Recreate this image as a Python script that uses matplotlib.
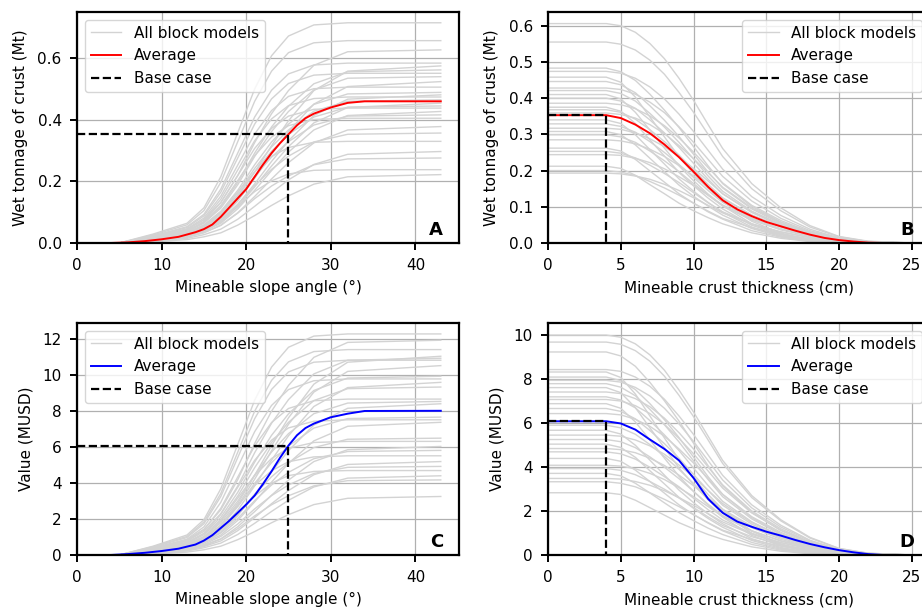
import matplotlib
matplotlib.use('Agg')
import matplotlib.pyplot as plt

# --- slope angle panels (A, C) ---
angle_x = [5, 9, 13, 15, 17, 19, 21, 23, 25, 28, 32, 43]

tonnage_by_angle = [
    [0, .029, .064, .114, .215, .358, .500, .608, .672, .708, .715, .715],
    [0, .026, .059, .105, .197, .329, .460, .558, .618, .650, .657, .657],
    [0, .019, .044, .075, .132, .219, .326, .420, .495, .577, .621, .627],
    [0, .023, .053, .093, .175, .292, .409, .496, .549, .578, .584, .584],
    [0, .012, .029, .052, .086, .150, .230, .316, .397, .495, .558, .575],
    [0, .017, .039, .067, .118, .197, .292, .377, .444, .517, .556, .562],
    [0, .022, .050, .088, .165, .276, .386, .468, .518, .545, .551, .551],
    [0, .016, .038, .065, .113, .189, .281, .362, .427, .497, .535, .540],
    [0, .010, .026, .047, .079, .136, .210, .288, .362, .451, .508, .524],
    [0, .020, .046, .081, .152, .253, .354, .430, .476, .501, .506, .506],
    [0, .015, .034, .059, .103, .171, .254, .328, .386, .450, .484, .489],
    [0, .010, .024, .043, .072, .125, .192, .265, .332, .414, .467, .481],
    [0, .019, .043, .076, .142, .237, .332, .403, .446, .469, .474, .474],
    [0, .014, .033, .056, .098, .163, .242, .312, .367, .428, .460, .465],
    [0, .009, .023, .041, .068, .118, .182, .250, .313, .390, .440, .454],
    [0, .013, .031, .053, .093, .156, .231, .298, .352, .409, .441, .445],
    [0, .018, .039, .070, .131, .219, .307, .372, .412, .434, .438, .438],
    [0, .009, .021, .038, .064, .111, .171, .235, .295, .367, .414, .427],
    [0, .012, .029, .050, .087, .146, .216, .279, .329, .383, .412, .416],
    [0, .016, .036, .065, .122, .203, .284, .344, .381, .401, .405, .405],
    [0, .008, .019, .034, .057, .098, .151, .208, .261, .325, .367, .378],
    [0, .011, .025, .043, .075, .125, .186, .239, .282, .328, .353, .357],
    [0, .013, .030, .053, .099, .165, .231, .281, .310, .327, .330, .330],
    [0, .006, .015, .027, .045, .077, .119, .163, .205, .255, .288, .297],
    [0, .008, .019, .033, .058, .097, .144, .185, .218, .254, .273, .276],
    [0, .010, .021, .038, .071, .119, .167, .202, .224, .236, .238, .238],
    [0, .004, .011, .020, .033, .058, .089, .122, .153, .191, .215, .222],
]

value_by_angle = [
    [0, .49, 1.11, 1.96, 3.68, 6.14, 8.60, 10.44, 11.54, 12.16, 12.28, 12.28],
    [0, .36, .84, 1.43, 2.51, 4.18, 6.20, 7.99, 9.42, 10.98, 11.81, 11.93],
    [0, .46, 1.03, 1.83, 3.42, 5.71, 7.99, 9.70, 10.73, 11.30, 11.41, 11.41],
    [0, .22, .55, .99, 1.66, 2.87, 4.42, 6.07, 7.62, 9.49, 10.71, 11.04],
    [0, .33, .77, 1.31, 2.30, 3.83, 5.68, 7.32, 8.63, 10.06, 10.82, 10.93],
    [0, .43, .97, 1.73, 3.25, 5.41, 7.57, 9.20, 10.17, 10.71, 10.82, 10.82],
    [0, .21, .53, .95, 1.58, 2.74, 4.21, 5.79, 7.26, 9.05, 10.20, 10.52],
    [0, .30, .70, 1.19, 2.09, 3.48, 5.16, 6.65, 7.84, 9.14, 9.83, 9.93],
    [0, .39, .88, 1.56, 2.93, 4.89, 6.85, 8.31, 9.19, 9.68, 9.78, 9.78],
    [0, .19, .48, .86, 1.44, 2.49, 3.84, 5.27, 6.62, 8.25, 9.30, 9.59],
    [0, .28, .65, 1.12, 1.96, 3.27, 4.85, 6.25, 7.37, 8.58, 9.24, 9.33],
    [0, .35, .78, 1.39, 2.60, 4.33, 6.06, 7.36, 8.14, 8.57, 8.66, 8.66],
    [0, .26, .60, 1.02, 1.79, 2.99, 4.44, 5.72, 6.74, 7.85, 8.44, 8.53],
    [0, .17, .42, .76, 1.26, 2.18, 3.36, 4.62, 5.80, 7.22, 8.15, 8.40],
    [0, .23, .54, .92, 1.61, 2.68, 3.98, 5.13, 6.05, 7.05, 7.58, 7.66],
    [0, .30, .68, 1.20, 2.25, 3.76, 5.26, 6.38, 7.06, 7.43, 7.51, 7.51],
    [0, .15, .37, .66, 1.11, 1.92, 2.95, 4.05, 5.09, 6.34, 7.15, 7.37],
    [0, .19, .45, .78, 1.36, 2.27, 3.37, 4.35, 5.13, 5.97, 6.43, 6.49],
    [0, .25, .57, 1.01, 1.89, 3.16, 4.42, 5.36, 5.93, 6.25, 6.31, 6.31],
    [0, .12, .30, .54, .90, 1.57, 2.41, 3.32, 4.16, 5.19, 5.85, 6.03],
    [0, .17, .41, .70, 1.22, 2.03, 3.02, 3.89, 4.59, 5.35, 5.75, 5.81],
    [0, .22, .50, .88, 1.65, 2.76, 3.86, 4.68, 5.18, 5.45, 5.51, 5.51],
    [0, .10, .26, .47, .78, 1.35, 2.08, 2.85, 3.58, 4.46, 5.03, 5.19],
    [0, .15, .34, .59, 1.03, 1.72, 2.56, 3.30, 3.89, 4.53, 4.87, 4.92],
    [0, .19, .42, .75, 1.41, 2.35, 3.28, 3.99, 4.41, 4.64, 4.69, 4.69],
    [0, .09, .22, .40, .66, 1.14, 1.76, 2.42, 3.04, 3.78, 4.27, 4.40],
    [0, .13, .29, .50, .88, 1.46, 2.17, 2.79, 3.29, 3.84, 4.13, 4.17],
    [0, .07, .16, .29, .49, .85, 1.30, 1.79, 2.24, 2.80, 3.15, 3.25],
]

avg_angle_x = [4, 6, 8, 10, 12, 14, 15, 16, 17, 18, 19, 20, 21, 22, 23, 24,
               25, 26, 27, 28, 30, 32, 34, 43]
avg_tonnage_angle = [0, .002, .006, .012, .020, .035, .045, .060, .085, .115,
                     .145, .175, .215, .255, .292, .324, .353, .382, .405,
                     .420, .440, .455, .460, .460]
avg_value_angle = [0, .05, .12, .22, .35, .58, .80, 1.10, 1.50, 1.90, 2.35,
                   2.80, 3.30, 3.95, 4.65, 5.40, 6.08, 6.65, 7.05, 7.30, 7.65,
                   7.85, 8.00, 8.01]

# --- crust thickness panels (B, D) ---
thick_x = [0, 4, 5, 6, 7, 8, 9, 10, 11, 12, 14, 16, 18, 20, 22, 25]

tonnage_by_thick = [
    [.606, .606, .600, .582, .551, .509, .455, .394, .327, .261, .164, .097, .048, .018, .005, 0],
    [.555, .555, .549, .533, .505, .466, .416, .361, .300, .239, .150, .089, .044, .017, .004, 0],
    [.483, .483, .473, .449, .411, .367, .319, .266, .213, .164, .101, .058, .029, .010, .002, 0],
    [.474, .474, .469, .455, .431, .398, .356, .308, .256, .204, .128, .076, .038, .014, .004, 0],
    [.458, .458, .444, .403, .348, .293, .238, .192, .151, .115, .060, .027, .009, .002, 0, 0],
    [.446, .446, .437, .415, .379, .339, .294, .245, .196, .152, .094, .054, .027, .009, .002, 0],
    [.428, .428, .424, .411, .389, .360, .321, .278, .231, .184, .116, .068, .034, .013, .003, 0],
    [.421, .421, .413, .392, .358, .320, .278, .232, .185, .143, .088, .051, .025, .008, .002, 0],
    [.410, .410, .398, .361, .312, .262, .213, .172, .135, .103, .053, .025, .008, .002, 0, 0],
    [.400, .400, .392, .372, .340, .304, .264, .220, .176, .136, .084, .048, .024, .008, .002, 0],
    [.386, .386, .382, .371, .351, .324, .290, .251, .208, .166, .104, .062, .031, .012, .003, 0],
    [.375, .375, .364, .330, .285, .240, .195, .158, .124, .094, .049, .023, .008, .002, 0, 0],
    [.368, .368, .361, .342, .313, .280, .243, .202, .162, .125, .077, .044, .022, .007, .001, 0],
    [.359, .359, .355, .345, .327, .302, .269, .233, .194, .154, .097, .057, .029, .011, .003, 0],
    [.340, .340, .330, .299, .258, .218, .177, .143, .112, .085, .044, .020, .007, .002, 0, 0],
    [.329, .329, .322, .306, .280, .250, .217, .181, .145, .112, .069, .039, .020, .007, .001, 0],
    [.317, .317, .314, .304, .288, .266, .238, .206, .171, .136, .086, .051, .025, .010, .003, 0],
    [.308, .308, .299, .271, .234, .197, .160, .129, .102, .077, .040, .018, .006, .002, 0, 0],
    [.299, .299, .293, .278, .254, .227, .197, .164, .132, .102, .063, .036, .018, .006, .001, 0],
    [.285, .285, .282, .274, .259, .239, .214, .185, .154, .123, .077, .046, .023, .009, .002, 0],
    [.262, .262, .254, .231, .199, .168, .136, .110, .086, .066, .034, .016, .005, .001, 0, 0],
    [.253, .253, .248, .235, .215, .192, .167, .139, .111, .086, .053, .030, .015, .005, .001, 0],
    [.244, .244, .242, .234, .222, .205, .183, .159, .132, .105, .066, .039, .020, .007, .002, 0],
    [.212, .212, .206, .187, .161, .136, .110, .089, .070, .053, .028, .013, .004, .001, 0, 0],
    [.200, .200, .196, .186, .170, .152, .132, .110, .088, .068, .042, .024, .012, .004, .001, 0],
    [.193, .193, .191, .185, .176, .162, .145, .125, .104, .083, .052, .031, .015, .006, .002, 0],
]

value_by_thick = [
    [10.0, 10.0, 9.90, 9.60, 9.10, 8.40, 7.50, 6.50, 5.40, 4.30, 2.70, 1.60, 0.80, 0.30, 0.08, 0],
    [9.68, 9.68, 9.58, 9.29, 8.81, 8.13, 7.26, 6.29, 5.23, 4.16, 2.61, 1.55, 0.77, 0.29, 0.08, 0],
    [9.23, 9.23, 9.05, 8.58, 7.85, 7.01, 6.09, 5.08, 4.06, 3.14, 1.94, 1.11, 0.55, 0.18, 0.04, 0],
    [8.43, 8.43, 8.35, 8.09, 7.67, 7.08, 6.32, 5.48, 4.55, 3.62, 2.28, 1.35, 0.67, 0.25, 0.07, 0],
    [8.32, 8.32, 8.07, 7.32, 6.32, 5.32, 4.33, 3.49, 2.75, 2.08, 1.08, 0.50, 0.17, 0.04, 0, 0],
    [8.09, 8.09, 7.93, 7.52, 6.88, 6.15, 5.34, 4.45, 3.56, 2.75, 1.70, 0.97, 0.49, 0.16, 0.03, 0],
    [7.94, 7.94, 7.86, 7.62, 7.23, 6.67, 5.96, 5.16, 4.29, 3.41, 2.14, 1.27, 0.64, 0.24, 0.06, 0],
    [7.79, 7.79, 7.63, 7.24, 6.62, 5.92, 5.14, 4.28, 3.43, 2.65, 1.64, 0.93, 0.47, 0.16, 0.03, 0],
    [7.61, 7.61, 7.38, 6.70, 5.78, 4.87, 3.96, 3.20, 2.51, 1.90, 0.99, 0.46, 0.15, 0.04, 0, 0],
    [7.41, 7.41, 7.34, 7.11, 6.74, 6.22, 5.56, 4.82, 4.00, 3.19, 2.00, 1.19, 0.59, 0.22, 0.06, 0],
    [7.19, 7.19, 7.05, 6.69, 6.11, 5.46, 4.75, 3.95, 3.16, 2.44, 1.51, 0.86, 0.43, 0.14, 0.03, 0],
    [7.07, 7.07, 7.00, 6.79, 6.43, 5.94, 5.30, 4.60, 3.82, 3.04, 1.91, 1.13, 0.57, 0.21, 0.06, 0],
    [6.88, 6.88, 6.67, 6.05, 5.23, 4.40, 3.58, 2.89, 2.27, 1.72, 0.89, 0.41, 0.14, 0.03, 0, 0],
    [6.66, 6.66, 6.53, 6.19, 5.66, 5.06, 4.40, 3.66, 2.93, 2.26, 1.40, 0.80, 0.40, 0.13, 0.03, 0],
    [6.43, 6.43, 6.37, 6.17, 5.85, 5.40, 4.82, 4.18, 3.47, 2.76, 1.74, 1.03, 0.51, 0.19, 0.05, 0],
    [5.90, 5.90, 5.78, 5.49, 5.02, 4.48, 3.89, 3.25, 2.60, 2.01, 1.24, 0.71, 0.35, 0.12, 0.02, 0],
    [5.67, 5.67, 5.50, 4.99, 4.31, 3.63, 2.95, 2.38, 1.87, 1.42, 0.74, 0.34, 0.11, 0.03, 0, 0],
    [5.45, 5.45, 5.40, 5.23, 4.96, 4.58, 4.09, 3.54, 2.94, 2.34, 1.47, 0.87, 0.44, 0.16, 0.04, 0],
    [5.25, 5.25, 5.15, 4.88, 4.46, 3.99, 3.47, 2.89, 2.31, 1.79, 1.10, 0.63, 0.32, 0.11, 0.02, 0],
    [5.04, 5.04, 4.89, 4.44, 3.83, 3.23, 2.62, 2.12, 1.66, 1.26, 0.66, 0.30, 0.10, 0.03, 0, 0],
    [4.84, 4.84, 4.79, 4.65, 4.40, 4.07, 3.63, 3.15, 2.61, 2.08, 1.31, 0.77, 0.39, 0.15, 0.04, 0],
    [4.69, 4.69, 4.60, 4.36, 3.99, 3.56, 3.10, 2.58, 2.06, 1.59, 0.98, 0.56, 0.28, 0.09, 0.02, 0],
    [4.39, 4.39, 4.26, 3.86, 3.34, 2.81, 2.28, 1.84, 1.45, 1.10, 0.57, 0.26, 0.09, 0.02, 0, 0],
    [4.08, 4.08, 4.04, 3.92, 3.71, 3.43, 3.06, 2.65, 2.20, 1.75, 1.10, 0.65, 0.33, 0.12, 0.03, 0],
    [3.93, 3.93, 3.85, 3.65, 3.34, 2.99, 2.59, 2.16, 1.73, 1.34, 0.83, 0.47, 0.24, 0.08, 0.02, 0],
    [3.71, 3.71, 3.60, 3.26, 2.82, 2.37, 1.93, 1.56, 1.22, 0.93, 0.48, 0.22, 0.07, 0.02, 0, 0],
    [3.48, 3.48, 3.45, 3.34, 3.17, 2.92, 2.61, 2.26, 1.88, 1.50, 0.94, 0.56, 0.28, 0.10, 0.03, 0],
    [3.33, 3.33, 3.26, 3.10, 2.83, 2.53, 2.20, 1.83, 1.47, 1.13, 0.70, 0.40, 0.20, 0.07, 0.01, 0],
    [2.83, 2.83, 2.75, 2.49, 2.15, 1.81, 1.47, 1.19, 0.93, 0.71, 0.37, 0.17, 0.06, 0.01, 0, 0],
]

avg_thick_x = [0, 4, 5, 6, 7, 8, 9, 10, 11, 12, 13, 14, 15, 16, 17, 18, 19,
               20, 21, 22, 23, 25]
avg_tonnage_thick = [.353, .353, .345, .327, .303, .272, .237, .197, .155,
                     .118, .093, .074, .058, .046, .034, .023, .014, .008,
                     .004, .001, 0, 0]
avg_value_thick = [6.08, 6.08, 5.98, 5.70, 5.25, 4.82, 4.30, 3.50, 2.55, 1.92,
                   1.52, 1.28, 1.06, 0.88, 0.68, 0.50, 0.35, 0.22, 0.12, 0.04,
                   0, 0]

# base case: 25 deg slope, 4 cm crust
base_angle = 25
base_thick = 4
base_tonnage = 0.353
base_value = 6.08

panels = [
    # letter, x, curves, avg x, avg y, colour, base x, base y, xlabel, ylabel, xlim, ylim, xticks, yticks, legend loc
    ('A', angle_x, tonnage_by_angle, avg_angle_x, avg_tonnage_angle, 'red',
     base_angle, base_tonnage, 'Mineable slope angle (°)', 'Wet tonnage of crust (Mt)',
     45.15, 0.75, [0, 10, 20, 30, 40], [0.0, 0.2, 0.4, 0.6], 'upper left'),
    ('B', thick_x, tonnage_by_thick, avg_thick_x, avg_tonnage_thick, 'red',
     base_thick, base_tonnage, 'Mineable crust thickness (cm)', 'Wet tonnage of crust (Mt)',
     26.25, 0.638, [0, 5, 10, 15, 20, 25], [0.0, 0.1, 0.2, 0.3, 0.4, 0.5, 0.6], 'upper right'),
    ('C', angle_x, value_by_angle, avg_angle_x, avg_value_angle, 'blue',
     base_angle, base_value, 'Mineable slope angle (°)', 'Value (MUSD)',
     45.15, 12.89, [0, 10, 20, 30, 40], [0, 2, 4, 6, 8, 10, 12], 'upper left'),
    ('D', thick_x, value_by_thick, avg_thick_x, avg_value_thick, 'blue',
     base_thick, base_value, 'Mineable crust thickness (cm)', 'Value (MUSD)',
     26.25, 10.55, [0, 5, 10, 15, 20, 25], [0, 2, 4, 6, 8, 10], 'upper right'),
]

# axes boxes in figure fractions (right column runs off the edge, like the source)
boxes = [
    [0.0835, 0.601, 0.4143, 0.3793],
    [0.5944, 0.601, 0.4143, 0.3793],
    [0.0835, 0.0887, 0.4143, 0.381],
    [0.5944, 0.0887, 0.4143, 0.381],
]

fig = plt.figure(figsize=(9.22, 6.09), dpi=100)

for box, p in zip(boxes, panels):
    (letter, xs, curves, ax_x, ax_y, col, bx, by, xlab, ylab,
     xmax, ymax, xt, yt, loc) = p
    ax = fig.add_axes(box)
    ax.grid(True, color='#b0b0b0', linewidth=0.9)
    ax.set_axisbelow(True)

    for i, ys in enumerate(curves):
        ax.plot(xs, ys, color='lightgray', linewidth=1.0,
                label='All block models' if i == 0 else None)
    ax.plot(ax_x, ax_y, color=col, linewidth=1.4, label='Average')
    ax.plot([0, bx, bx], [by, by, 0], color='black', linestyle='--',
            linewidth=1.6, label='Base case')

    ax.set_xlim(0, xmax)
    ax.set_ylim(0, ymax)
    ax.set_xticks(xt)
    ax.set_yticks(yt)
    if ymax < 1:
        ax.set_yticklabels(['%.1f' % v for v in yt])
    ax.set_xlabel(xlab, fontsize=11, labelpad=5)
    ax.set_ylabel(ylab, fontsize=11, labelpad=6.5)
    for s in ax.spines.values():
        s.set_linewidth(1.6)
    ax.tick_params(width=1.4, length=5, pad=6, labelsize=11)
    ax.text(0.958, 0.035, letter, transform=ax.transAxes, ha='right',
            va='baseline', fontsize=13, fontweight='bold')
    ax.legend(loc=loc, fontsize=11)

plt.savefig('out.png', dpi=100)
